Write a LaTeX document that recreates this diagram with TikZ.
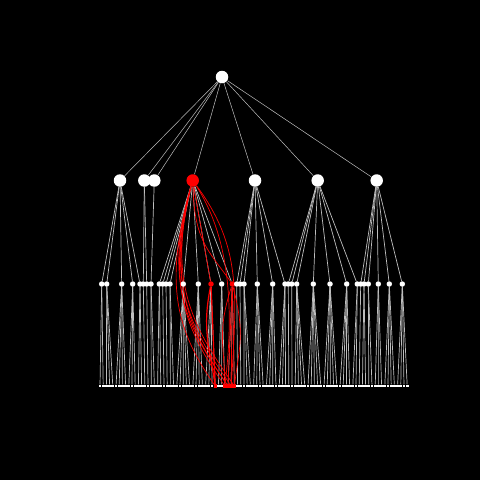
\documentclass[tikz,border=0pt]{standalone}
\usepackage{tikz}
\usetikzlibrary{
	positioning
	, backgrounds
	, calc
}
\definecolor{linkgrey}{RGB}{190,190,190}

\begin{document}
\begin{tikzpicture}[
				x=1pt, y=-1pt,
				bignode/.style={
					circle,
					fill=white,
					inner sep=0pt,
					minimum size=12.5pt
				},
				subnode/.style={
					bignode,
					minimum size=5.5pt
				},
				leafnode/.style={
					rectangle,
					fill=white,
					inner sep=0pt,
					minimum size=2.8pt
				},
				link/.style={
					draw=linkgrey,
					line width=0.7pt
				},
				hotlink/.style={
					draw=red,
					line width=0.7pt
				}]

			\useasboundingbox (0,0) rectangle (480,480);
			\begin{scope}[on background layer]
				\fill[black] (0,0) rectangle (480,480);
			\end{scope}

			%%% Root and the seven groups below it
			\node [bignode] (root) at (222,77) {};
			\foreach [count=\i] \x/\c in {120/white, 144.3/white, 154.3/white, 192.7/red, 255/white, 317.7/white, 376.7/white} {
				\node [bignode, fill=\c] (grp\i) at (\x,180.5) {};
				\begin{scope}[on background layer]
					\draw [link, line width=0.5pt] (root) -- (grp\i);
				\end{scope}
			};

			%%% Second row: position / group / colour
			\foreach [count=\i] \x/\p/\c in {101.7/1/white, 106.7/1/white, 121.7/1/white, 132.7/1/white, 140/1/white,
					143.3/2/white, 146.7/2/white, 151/3/white,
					159.3/4/white, 162.7/4/white, 166/4/white, 170/4/white, 183.3/4/white, 198.3/4/white, 211/4/red, 221.7/4/white, 232.3/4/red,
					236.7/5/white, 240/5/white, 244/5/white, 257.3/5/white, 272.7/5/white, 285/5/white,
					288.3/6/white, 291.7/6/white, 296.7/6/white, 313.3/6/white, 330/6/white, 346.7/6/white, 357.3/6/white,
					360.7/7/white, 364/7/white, 368.3/7/white, 378.3/7/white, 389.3/7/white, 402.3/7/white} {
				\node [subnode, fill=\c] (sub\i) at (\x,284) {};
				\begin{scope}[on background layer]
					\draw [link] (grp\p) -- (sub\i);
				\end{scope}
			};

			%%% Leaves: parent / first / last
			\foreach \n/\a/\b in {1/0/1, 2/2/4, 3/5/8, 4/9/11, 5/12/13, 6/14/14, 7/15/15, 8/16/17, 9/18/19,
					10/20/20, 11/21/21, 12/22/23, 13/24/28, 14/29/32, 15/33/36, 16/37/39, 17/40/42, 18/43/43,
					19/44/44, 20/45/47, 21/48/51, 22/52/55, 23/56/58, 24/59/59, 25/60/60, 26/61/64, 27/65/69,
					28/70/74, 29/75/78, 30/79/80, 31/81/81, 32/82/83, 33/84/85, 34/86/88, 35/89/92, 36/93/96} {
				\foreach \j in {\a,...,\b} {
					\node [leafnode] (leaf\j) at ({100+3.2*\j},386) {};
					\begin{scope}[on background layer]
						\draw [link] (sub\n) -- (leaf\j);
					\end{scope}
				};
			};

			%%% Highlighted part
			\foreach \j in {36,39,40,41,42} {
				\fill [red] (leaf\j.south west) rectangle (leaf\j.north east);
			};
			\begin{scope}[on background layer]
				\draw [hotlink] (grp4) -- (sub15);
				\draw [hotlink] (grp4) .. controls +(2,60) and +(-25,-35) .. (sub17);
				\draw [hotlink, line width=1.2pt] (sub15) -- (leaf36);
				\foreach \j in {40,41,42} {
					\draw [hotlink] (sub17) -- (leaf\j);
				};
				% bundle on the left
				\foreach \j/\s in {36/-30, 39/-28, 40/-26, 41/-29, 42/-27, 40/-31} {
					\draw [hotlink] (grp4) .. controls +(\s,105) and +(-38,-55) .. (leaf\j);
				};
				% curves on the right
				\draw [hotlink] (grp4) .. controls +(48,65) and +(6,-95) .. (leaf41);
				\draw [hotlink] (grp4) .. controls +(36,55) and +(10,-80) .. (leaf39);
				\draw [hotlink, line width=1.2pt] (sub15) .. controls +(-9,45) and +(-6,-40) .. (leaf36);
				\draw [hotlink] (sub17) .. controls +(-16,50) and +(0,-40) .. (leaf39);
				\draw [hotlink] (sub17) .. controls +(13,50) and +(5,-40) .. (leaf42);
			\end{scope}

		\end{tikzpicture}
\end{document}
